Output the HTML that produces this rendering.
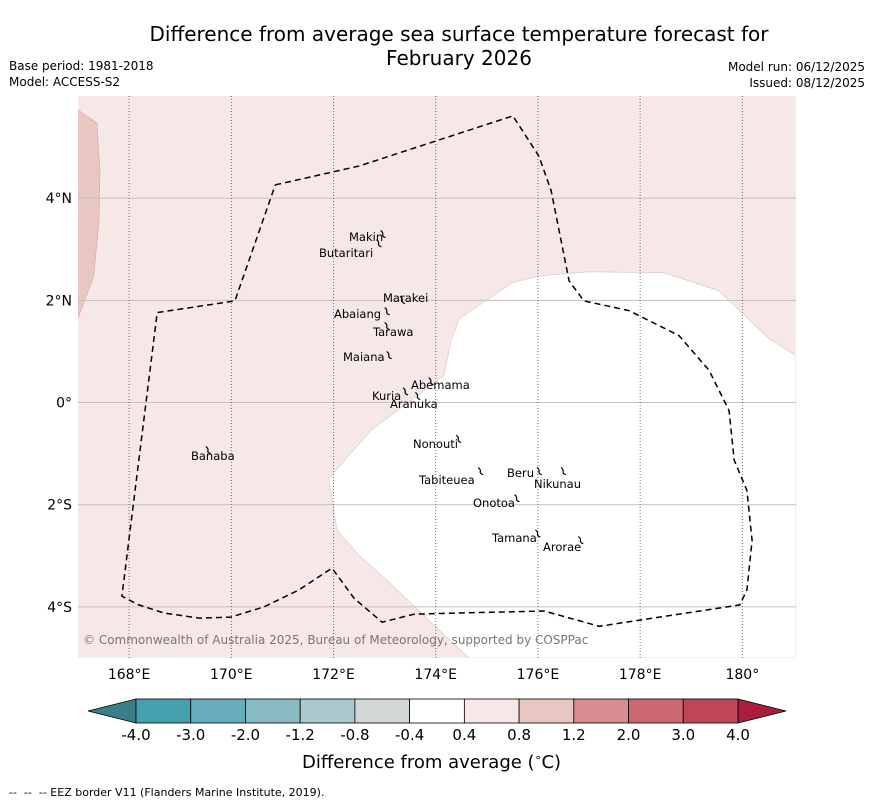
<!DOCTYPE html>
<html><head><meta charset="utf-8"><style>
body{margin:0;background:#fff;font-family:"DejaVu Sans","Liberation Sans",sans-serif;}
#root{position:relative;width:873px;height:804px;overflow:hidden;}
.t{position:absolute;white-space:nowrap;color:#000;}
</style></head><body>
<div id="root">
<div class="t" style="left:0;width:918px;top:22px;text-align:center;font-size:20px;line-height:24px;">Difference from average sea surface temperature forecast for<br>February 2026</div>
<div class="t" style="left:9px;top:59px;font-size:12px;">Base period: 1981-2018</div>
<div class="t" style="left:9px;top:75px;font-size:12px;">Model: ACCESS-S2</div>
<div class="t" style="right:8px;top:60px;font-size:12px;">Model run: 06/12/2025</div>
<div class="t" style="right:8px;top:76px;font-size:12px;">Issued: 08/12/2025</div>
<svg id="map" width="873" height="804" style="position:absolute;left:0;top:0" font-family="DejaVu Sans, Liberation Sans, sans-serif"></svg>
<div class="t" style="left:302px;top:751px;font-size:18px;">Difference from average (<sup style="font-size:11px">∘</sup>C)</div>
<div class="t" style="left:9px;top:786px;font-size:11px;">--&nbsp; --&nbsp; -- EEZ border V11 (Flanders Marine Institute, 2019).</div>
</div>
<script>
const NS="http://www.w3.org/2000/svg";
const svg=document.getElementById('map');
const lonMin=167,lonMax=181.05,latMin=-5,latMax=6;
const X0=78,X1=796,Y0=96,Y1=658;
const lonTicks=[168,170,172,174,176,178,180];
const lonLabels=["168°E","170°E","172°E","174°E","176°E","178°E","180°"];
const latTicks=[4,2,0,-2,-4];
const latLabels=["4°N","2°N","0°","2°S","4°S"];
const cbBounds=["-4.0","-3.0","-2.0","-1.2","-0.8","-0.4","0.4","0.8","1.2","2.0","3.0","4.0"];
const cbColors=["#45a0b0","#67adbb","#89b9c3","#a9c9cc","#d3d6d6","#ffffff","#f5e8e7","#e8c6c2","#d88d94","#cd6873","#c04556"];
const whiteRegion=[[181.05,0.92],[180.52,1.25],[179.54,2.19],[178.47,2.54],[177.0,2.56],[176.02,2.48],[175.49,2.34],[174.46,1.64],[174.3,1.21],[174.16,0.53],[172.73,-0.55],[171.91,-1.48],[172.07,-2.5],[172.5,-2.99],[173.09,-3.52],[174.06,-4.45],[174.65,-5.0],[181.05,-5.0]];
const warmStrip=[[166.98,5.74],[167.37,5.47],[167.43,4.53],[167.41,3.55],[167.31,2.48],[166.98,1.6]];
const eez=[[170.86,4.26],[172.5,4.63],[175.51,5.61],[176.02,4.82],[176.26,4.14],[176.61,2.38],[176.9,1.99],[177.78,1.8],[178.76,1.31],[179.35,0.63],[179.74,-0.16],[179.84,-1.13],[180.09,-1.72],[180.19,-2.7],[180.09,-3.67],[179.95,-3.96],[177.2,-4.38],[176.12,-4.08],[173.58,-4.14],[172.95,-4.3],[172.4,-3.83],[171.97,-3.24],[171.32,-3.67],[170.64,-4.0],[169.99,-4.2],[169.37,-4.22],[168.68,-4.12],[168.19,-3.96],[167.86,-3.79],[168.55,1.76],[170.07,1.99],[170.86,4.26]];
const islandNames=["Makin","Butaritari","Marakei","Abaiang","Tarawa","Maiana","Abemama","Kuria","Aranuka","Banaba","Nonouti","Tabiteuea","Beru","Nikunau","Onotoa","Tamana","Arorae"];
const islandLon=[172.96,172.88,173.34,173.04,173.04,173.08,173.9,173.4,173.64,169.54,174.44,174.87,176.02,176.49,175.58,175.99,176.83];
const islandLat=[3.31,3.13,2.02,1.8,1.51,0.94,0.43,0.23,0.14,-0.92,-0.7,-1.33,-1.33,-1.33,-1.86,-2.55,-2.68];
const labelX=[349,319,383,334,373,343,411,372,390,191,413,419,507,534,473,492,543];
const labelY=[241,257,302,318,336,361,389,400,408,460,448,484,477,488,507,542,551];
const sx=lon=>X0+(lon-lonMin)/(lonMax-lonMin)*(X1-X0);
const sy=lat=>Y0+(latMax-lat)/(latMax-latMin)*(Y1-Y0);
function el(tag,attrs,parent){const e=document.createElementNS(NS,tag);for(const k in attrs)e.setAttribute(k,attrs[k]);(parent||svg).appendChild(e);return e;}
const pts=a=>a.map(p=>sx(p[0]).toFixed(1)+','+sy(p[1]).toFixed(1)).join(' ');
const clip=el('clipPath',{id:'mc'},el('defs',{}));el('rect',{x:X0,y:Y0,width:X1-X0,height:Y1-Y0},clip);
const g=el('g',{'clip-path':'url(#mc)'});
let r=el('rect',{x:X0,y:Y0,width:X1-X0,height:Y1-Y0,fill:'#f5e8e7'},g);

let p=el('polygon',{points:pts(whiteRegion),fill:'#ffffff',stroke:'#d8c4c4','stroke-width':0.6},g);

p=el('polygon',{points:pts(warmStrip),fill:'#e8c6c2',stroke:'#d0aaa8','stroke-width':0.6},g);

latTicks.forEach((t,i)=>{const y=sy(t);const l=el('line',{x1:X0,x2:X1,y1:y,y2:y,stroke:'#c9bfbf','stroke-width':1},g);

const tx=el('text',{x:72,y:y+5,'text-anchor':'end','font-size':14});tx.textContent=latLabels[i];
});
lonTicks.forEach((t,i)=>{const x=sx(t);const l=el('line',{x1:x,x2:x,y1:Y0,y2:Y1,stroke:'#555','stroke-width':0.8,'stroke-dasharray':'1,2'},g);

const tx=el('text',{x:x,y:679,'text-anchor':'middle','font-size':14});tx.textContent=lonLabels[i];
});
p=el('polyline',{points:pts(eez),fill:'none',stroke:'#000','stroke-width':1.5,'stroke-dasharray':'6,4'},g);

islandNames.forEach((n,i)=>{const x=sx(islandLon[i]),y=sy(islandLat[i]);
const m=el('path',{d:`M${x-2},${y-3} q3,2 2,5 q1,2 3,2`,fill:'none',stroke:'#000','stroke-width':1.2},g);

const tx=el('text',{x:labelX[i],y:labelY[i],'font-size':11.5},g);tx.textContent=n;
});
const cr=el('text',{x:83,y:644,'font-size':12,fill:'#777'},g);cr.textContent="© Commonwealth of Australia 2025, Bureau of Meteorology, supported by COSPPac";

const cbX0=136,cbX1=738,cbY=699,cbH=24;const w=(cbX1-cbX0)/cbColors.length;
let tri=el('polygon',{points:`${cbX0},${cbY} ${cbX0},${cbY+cbH} 88,${cbY+cbH/2}`,fill:'#3a7f88',stroke:'#000','stroke-width':0.8});

tri=el('polygon',{points:`${cbX1},${cbY} ${cbX1},${cbY+cbH} 786,${cbY+cbH/2}`,fill:'#a81f3d',stroke:'#000','stroke-width':0.8});

cbColors.forEach((c,i)=>{const b=el('rect',{x:cbX0+i*w,y:cbY,width:w,height:cbH,fill:c,stroke:'#000','stroke-width':0.8});
});
cbBounds.forEach((s,i)=>{const tx=el('text',{x:cbX0+i*w,y:740,'text-anchor':'middle','font-size':15});tx.textContent=s;
});
</script>
</body></html>
